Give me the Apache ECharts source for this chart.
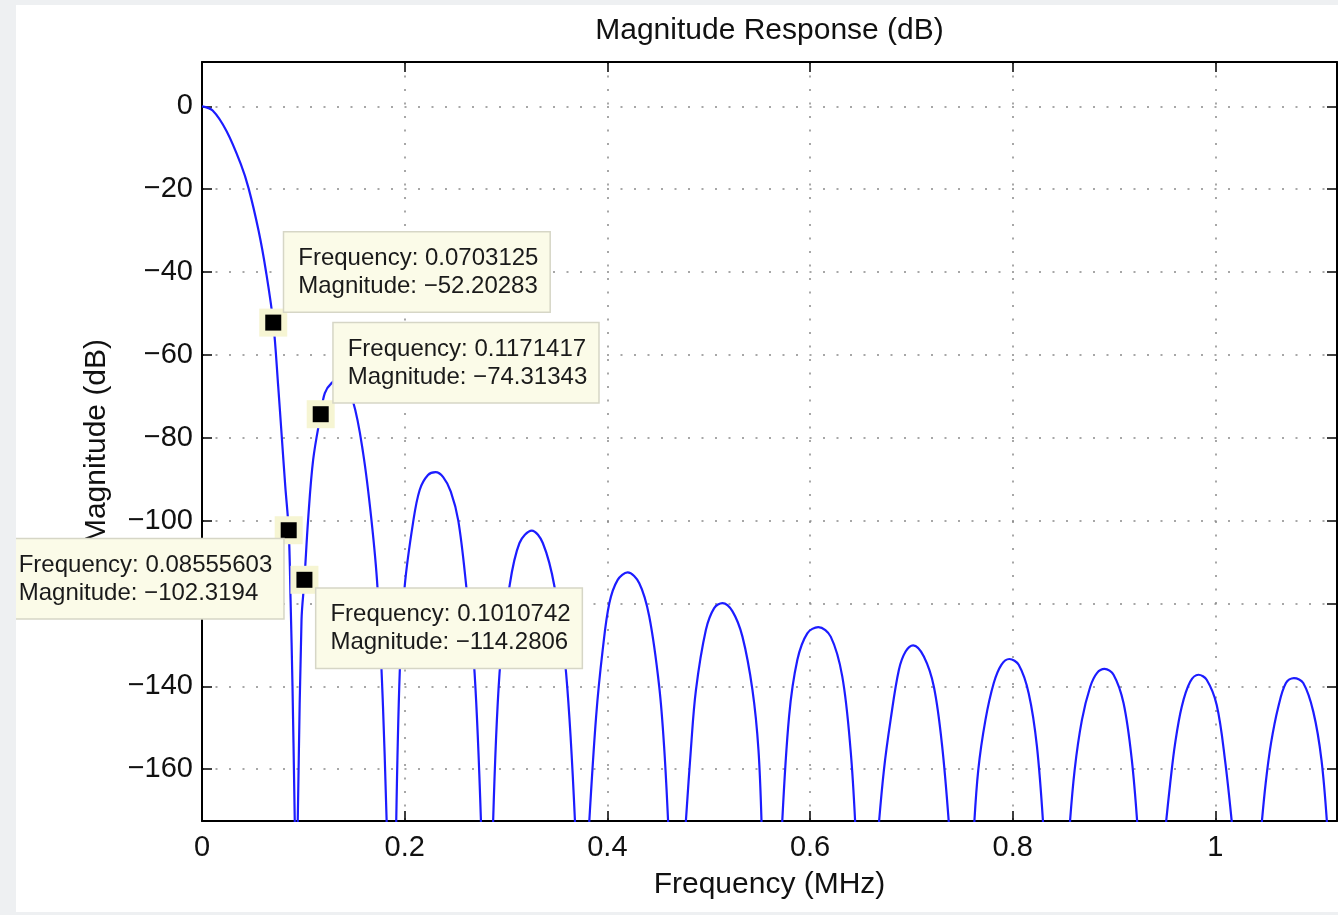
<!DOCTYPE html>
<html>
<head>
<meta charset="utf-8">
<title>Magnitude Response (dB)</title>
<script src="https://cdn.jsdelivr.net/npm/echarts@6.0.0/dist/echarts.min.js"></script>
<style>
  html, body { margin: 0; padding: 0; background: #eef0f2; }
  #chart-container { position: absolute; left: 16px; top: 5px; width: 1322px; height: 907px; background: #fff; }
</style>
</head>
<body>
<div id="chart-container"></div>
<script>
// frequency (MHz) and magnitude (dB), read lobe by lobe off the plot.
// -175 is where a lobe leaves the bottom of the axes; null is the
// off-scale null between two lobes (breaks the line).
var freq = [
  0, 0.0105, 0.0243, 0.0384, 0.046, 0.0559, 0.0631, 0.0703125, 0.0752, 0.0787, 0.0822, 0.08555603, 0.0874, 0.0893, 0.0917,
  0.093,
  0.0943, 0.0982, 0.1010742, 0.1047, 0.1097, 0.1171417, 0.1212, 0.1278, 0.137, 0.1491, 0.159, 0.1672, 0.1731, 0.1786, 0.1825,
  0.187,
  0.1915, 0.1951, 0.2, 0.2082, 0.2148, 0.223, 0.2305, 0.238, 0.2455, 0.2529, 0.2608, 0.269, 0.2756,
  0.281,
  0.287, 0.2936, 0.3034, 0.3133, 0.3254, 0.3363, 0.3478, 0.3593, 0.3685,
  0.375,
  0.3816, 0.3889, 0.3954, 0.402, 0.4102, 0.42, 0.4315, 0.4414, 0.4512, 0.4562, 0.4604,
  0.469,
  0.4768, 0.4824, 0.4874, 0.4972, 0.5054, 0.5136, 0.5235, 0.5333, 0.5432, 0.5491, 0.5524,
  0.562,
  0.5721, 0.5793, 0.5875, 0.5973, 0.6082, 0.6204, 0.6318, 0.64, 0.645,
  0.656,
  0.6673, 0.6729, 0.6795, 0.6877, 0.6943, 0.7018, 0.7123, 0.7222, 0.7304, 0.7376,
  0.75,
  0.7616, 0.766, 0.7731, 0.7813, 0.7888, 0.7967, 0.8059, 0.8158, 0.8239, 0.8305,
  0.843,
  0.8558, 0.8611, 0.8683, 0.8765, 0.8831, 0.8906, 0.8995, 0.9094, 0.9175, 0.9235,
  0.937,
  0.9504, 0.9554, 0.9603, 0.9668, 0.9751, 0.9833, 0.9914, 1.0013, 1.0095, 1.0171,
  1.031,
  1.045, 1.0496, 1.0549, 1.0621, 1.0696, 1.0775, 1.0867, 1.0966, 1.1047, 1.1107
];
var magDb = [
  0, -1.0, -6.0, -14.0, -19.8, -30.1, -39.8, -52.20283, -67.6, -79.7, -91.8, -102.3194, -119.1, -140, -175,
  null,
  -175, -124, -114.2806, -99.8, -85.3, -74.31343, -69.2, -66.8, -65.5, -71.3, -83.7, -99.8, -115.9, -144.9, -175,
  null,
  -175, -136.8, -115.9, -100.6, -92.6, -89, -88.3, -89.5, -93, -100, -115.9, -136.8, -175,
  null,
  -175, -136.8, -115.9, -105.4, -102.4, -105.4, -115.9, -136.8, -175,
  null,
  -175, -147.3, -131.2, -119.9, -114.3, -112.5, -115.1, -123.2, -140.1, -155.3, -175,
  null,
  -175, -155.3, -140.9, -126.4, -121.1, -119.9, -121.9, -128, -140.9, -155.3, -175,
  null,
  -175, -147.3, -133.6, -127.2, -125.7, -128, -137.6, -155.3, -175,
  null,
  -175, -160.2, -148.1, -136, -131.6, -130.1, -132.8, -140.1, -154.5, -175,
  null,
  -175, -160.2, -148.1, -139.2, -134.8, -133.4, -134.8, -141.7, -154.5, -175,
  null,
  -175, -160.2, -148.1, -140.1, -136.8, -135.8, -137.2, -144.1, -157.7, -175,
  null,
  -175, -163.4, -153.7, -144.9, -138.9, -137.2, -138.4, -144.5, -157.8, -175,
  null,
  -175, -163.4, -153.7, -144.9, -139.2, -138, -139.2, -146.1, -157.8, -175
];

// data tips
var tipFreq = [0.0703125, 0.1171417, 0.08555603, 0.1010742];
var tipMag = [-52.20283, -74.31343, -102.3194, -114.2806];

var xTicks = [0, 0.2, 0.4, 0.6, 0.8, 1];
var yTicks = [-160, -140, -120, -100, -80, -60, -40, -20, 0];

var FONT = '"Liberation Sans", Arial, Helvetica, sans-serif';

var dom = document.getElementById('chart-container');
var myChart = echarts.init(dom, null, { renderer: 'canvas' });

var minus = (v) => String(v).replace('-', '\u2212');

var lineData = freq.map((f, i) => [f, magDb[i] === null ? '-' : magDb[i]]);
var tipData = tipFreq.map((f, i) => [f, tipMag[i]]);

// where each tip box sits relative to its marker
var tipPlace = [
  { verticalAlign: 'bottom', offset: [11, -11] },
  { verticalAlign: 'bottom', offset: [13, -12] },
  { verticalAlign: 'top', offset: [-284, 9] },
  { verticalAlign: 'top', offset: [12, 9] },
];

var boxAxisLine = { show: true, onZero: false, lineStyle: { color: '#000', width: 2 } };
var tickStyle = { color: '#000', width: 1.5 };
var dotted = { color: '#8a8a8a', width: 1.5, type: [2, 11.5] };
var nameStyle = { color: '#111', fontSize: 30, fontFamily: FONT };

var option = {
  animation: false,
  grid: { left: 186, top: 57, right: 1, bottom: 91 },
  xAxis: [
    {
      type: 'value',
      min: 0,
      max: 1.12,
      position: 'bottom',
      axisLine: boxAxisLine,
      axisTick: { show: true, inside: true, length: 10, customValues: xTicks, lineStyle: tickStyle },
      axisLabel: {
        customValues: xTicks,
        margin: 12,
        color: '#111',
        fontSize: 29,
        fontFamily: FONT,
        formatter: (v) => String(v),
      },
      splitLine: { show: true, lineStyle: dotted },
      name: 'Frequency (MHz)',
      nameLocation: 'middle',
      nameGap: 49,
      nameTextStyle: nameStyle,
    },
    {
      type: 'value',
      min: 0,
      max: 1.12,
      position: 'top',
      axisLine: boxAxisLine,
      axisTick: { show: true, inside: true, length: 10, customValues: xTicks, lineStyle: tickStyle },
      axisLabel: { show: false },
      splitLine: { show: false },
      name: 'Magnitude Response (dB)',
      nameLocation: 'middle',
      nameGap: 16,
      nameTextStyle: nameStyle,
    },
  ],
  yAxis: [
    {
      type: 'value',
      min: -172.5,
      max: 10.7,
      position: 'left',
      axisLine: boxAxisLine,
      axisTick: { show: true, inside: true, length: 10, customValues: yTicks, lineStyle: tickStyle },
      axisLabel: {
        customValues: yTicks,
        margin: 9,
        color: '#111',
        fontSize: 29,
        fontFamily: FONT,
        formatter: minus,
      },
      splitLine: { show: true, lineStyle: dotted },
      name: 'Magnitude (dB)',
      nameLocation: 'middle',
      nameGap: 90,
      nameTextStyle: nameStyle,
    },
    {
      type: 'value',
      min: -172.5,
      max: 10.7,
      position: 'right',
      axisLine: boxAxisLine,
      axisTick: { show: true, inside: true, length: 10, customValues: yTicks, lineStyle: tickStyle },
      axisLabel: { show: false },
      splitLine: { show: false },
    },
  ],
  series: [
    {
      type: 'line',
      data: lineData,
      showSymbol: false,
      connectNulls: false,
      smooth: 0.35,
      clip: true,
      lineStyle: { color: '#1c1cff', width: 2.2 },
      z: 3,
    },
    {
      // pale halo behind each tip marker
      type: 'scatter',
      data: tipData,
      symbol: 'rect',
      symbolSize: 28,
      itemStyle: { color: '#f6f5d3', opacity: 1 },
      z: 4,
      silent: true,
    },
    {
      type: 'scatter',
      data: tipData.map((d, i) => ({
        value: d,
        label: {
          verticalAlign: tipPlace[i].verticalAlign,
          offset: tipPlace[i].offset,
        },
      })),
      symbol: 'rect',
      symbolSize: 16,
      itemStyle: { color: '#000', opacity: 1 },
      z: 5,
      label: {
        show: true,
        position: 'inside',
        align: 'left',
        formatter: (p) =>
          'Frequency: ' + p.value[0] + '\nMagnitude: ' + minus(p.value[1]),
        color: '#1a1a1a',
        fontSize: 24,
        lineHeight: 28,
        fontFamily: FONT,
        backgroundColor: '#fbfbe8',
        borderColor: '#d6d6c6',
        borderWidth: 1.5,
        padding: [12, 11, 11, 14],
      },
    },
  ],
};

if (option && typeof option === 'object') {
  myChart.setOption(option);
}

window.addEventListener('resize', myChart.resize);
</script>
</body>
</html>
